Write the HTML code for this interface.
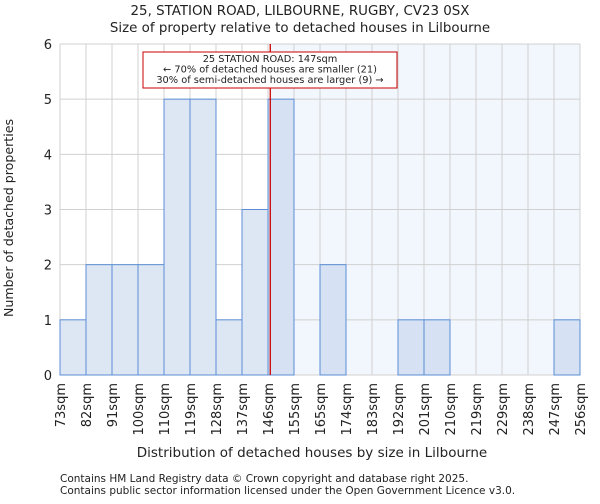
<!DOCTYPE html>
<html><head><meta charset="utf-8"><style>
body{margin:0;background:#fff;font-family:"DejaVu Sans","Liberation Sans",sans-serif;}
svg text{font-family:"DejaVu Sans","Liberation Sans",sans-serif;fill:#222;}
</style></head><body>
<svg id="c" width="600" height="500" xmlns="http://www.w3.org/2000/svg">
<text x="300" y="15" font-size="13.4" text-anchor="middle">25, STATION ROAD, LILBOURNE, RUGBY, CV23 0SX</text>
<text x="300" y="32" font-size="13.4" text-anchor="middle">Size of property relative to detached houses in Lilbourne</text>
<g id="plot"></g>
<text x="312" y="457" font-size="13.5" text-anchor="middle">Distribution of detached houses by size in Lilbourne</text>
<text transform="translate(13,218) rotate(-90)" font-size="12.6" text-anchor="middle">Number of detached properties</text>
<text x="60" y="482" font-size="10.5">Contains HM Land Registry data © Crown copyright and database right 2025.</text>
<text x="60" y="494" font-size="10.5">Contains public sector information licensed under the Open Government Licence v3.0.</text>
</svg>
<script>
const binLabels=["73sqm","82sqm","91sqm","100sqm","110sqm","119sqm","128sqm","137sqm","146sqm","155sqm","165sqm","174sqm","183sqm","192sqm","201sqm","210sqm","219sqm","229sqm","238sqm","247sqm","256sqm"];
const counts=[1,2,2,2,5,5,1,3,5,0,2,0,0,1,1,0,0,0,0,1];
const yTicks=[0,1,2,3,4,5,6];
const propertySize=147;
const binStart=73, binStep=9.15;
const L=60,R=580,T=44,B=375,yMax=6;
const NS="http://www.w3.org/2000/svg";
const g=document.getElementById('plot');
const bw=(R-L)/counts.length;
const x=i=>L+i*bw;
const y=v=>B-(v/yMax)*(B-T);
const xv=s=>L+(s-binStart)/binStep*bw;
function mk(t,a){const e=document.createElementNS(NS,t);for(const k in a)e.setAttribute(k,a[k]);g.appendChild(e);return e;}
const px=xv(propertySize);
let e=mk('rect',{x:px,y:T,width:R-px,height:B-T,fill:'#f2f6fd'});


for(let i=0;i<=counts.length;i++){e=mk('line',{x1:x(i),x2:x(i),y1:T,y2:B,stroke:'#d0d0d0','stroke-width':1});

}
yTicks.forEach(v=>{e=mk('line',{x1:L,x2:R,y1:y(v),y2:y(v),stroke:'#d0d0d0','stroke-width':1});


e=mk('text',{x:L-8,y:y(v)+5,'font-size':13,'text-anchor':'end'});e.textContent=v;

});
counts.forEach((c,i)=>{if(!c)return;const left=x(i);const hi=left>=px-3;
e=mk('rect',{x:left,y:y(c),width:bw,height:B-y(c),fill:hi?'#d6e2f3':'#dde7f4',stroke:'#5b8ed6','stroke-width':1});

});
binLabels.forEach((l,i)=>{e=mk('text',{transform:`translate(${x(i)+5},${B+8}) rotate(-90)`,'font-size':13,'text-anchor':'end'});e.textContent=l;

});
e=mk('line',{x1:px,x2:px,y1:T,y2:B,stroke:'#cc0000','stroke-width':1.3});


e=mk('rect',{x:143,y:52,width:254,height:36,fill:'#fff',stroke:'#cc0000','stroke-width':1});


["25 STATION ROAD: 147sqm","← 70% of detached houses are smaller (21)","30% of semi-detached houses are larger (9) →"].forEach((t,i)=>{
e=mk('text',{x:270,y:62+i*10.5,'font-size':9.8,'text-anchor':'middle'});e.textContent=t;

});
</script>
</body></html>
